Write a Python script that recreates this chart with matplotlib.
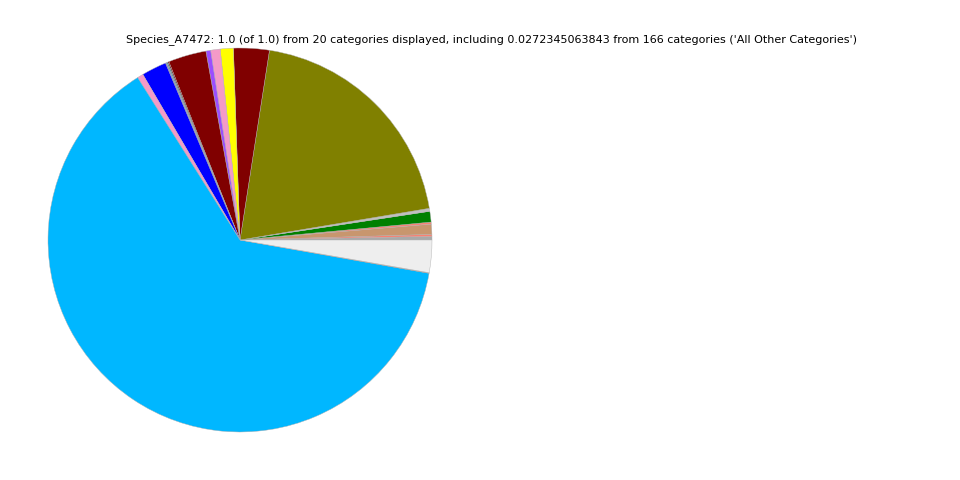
import matplotlib
matplotlib.use('Agg')
import matplotlib.pyplot as plt

# slice shares, counterclockwise from 3 o'clock
labels = ['cat_01', 'cat_02', 'cat_03', 'cat_04', 'cat_05', 'cat_06', 'cat_07',
          'cat_08', 'cat_09', 'cat_10', 'cat_11', 'cat_12', 'cat_13', 'cat_14',
          'cat_15', 'cat_16', 'cat_17', 'cat_18', 'cat_19',
          'All Other Categories']
values = [0.0030, 0.0017, 0.0085, 0.0017, 0.0090, 0.0025, 0.1990,
          0.0300, 0.0110, 0.0080, 0.0040, 0.0320, 0.0010, 0.0010,
          0.0010, 0.0210, 0.0050, 0.6326, 0.0005,
          0.0272345063843]
colors = ['#a9a9a9', '#fa8072', '#c8966e', '#fa8072', '#008000', '#c0c0c0', '#808000',
          '#800000', '#ffff00', '#f49ac8', '#9b4dff', '#800000', '#800000', '#2e8b8b',
          '#8888aa', '#0000ff', '#f49ac8', '#00b7ff', '#808080',
          '#eeeeee']

title = ("Species_A7472: 1.0 (of 1.0) from 20 categories displayed, including "
         "0.0272345063843 from 166 categories ('All Other Categories')")

fig = plt.figure(figsize=(9.6, 4.8), dpi=100)
ax = fig.add_axes([0.05, 0.1, 0.4, 0.8])
ax.pie(values, colors=colors, startangle=0, counterclock=True,
       wedgeprops={'edgecolor': '#b0b0b0', 'linewidth': 0.3})
ax.set_xlim(-1, 1)
ax.set_ylim(-1, 1)
ax.set_aspect('equal')

fig.text(492 / 960, 1 - 40 / 480, title, ha='center', va='center', fontsize=8)

fig.savefig('out.png', dpi=100)
